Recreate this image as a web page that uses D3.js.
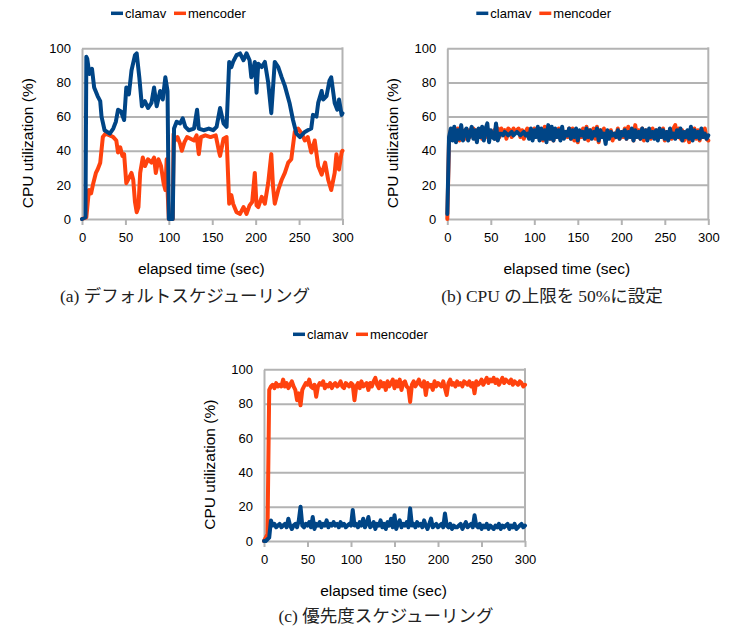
<!DOCTYPE html>
<html>
<head>
<meta charset="utf-8">
<script src="https://cdn.jsdelivr.net/npm/d3@7"></script>
<style>
  body { margin: 0; background: #fff; }
  svg { display: block; }
</style>
</head>
<body>
<svg id="chart" width="731" height="629"></svg>
<script>
// ---------- DATA ----------
const seriesNames = ["clamav", "mencoder"];
const xTicks = [0, 50, 100, 150, 200, 250, 300];
const yTicks = [0, 20, 40, 60, 80, 100];

// (a) default scheduling: time / value pairs
const aClamavT = [0,4,5,6,8.5,11.5,14,18,21,22.5,26,32,36,39,41.5,45,48.5,51,54,57,61,63,66,69,72.5,76,80,83,86,90,93,96,98.5,100,104.5,106,109,113,116,119,123,129,132.5,134.5,140,146,151,155,159,163,166.5,169.5,172,174,178,182,186,189.5,193,195,199,201,203,207,210.6,214.4,218,222,226,230,233.6,239,243,247,251,256.6,260,264,266,270,272,276,277.7,281.6,285,287,291,294,296,299,300];
const aClamavV = [0,1,95,94,85,88,77,72,69,60,52,50,53,57,64,63,58,77,73,87,96,97,83,66,69,65,68,77,66,75,70,83,75,0,0,53,57,56,59,54,52,53,64,53,52,53,52,54,65,56,54,92,89,92,96,97,93,97,93,83,92,74,91,89,92,80,62,92,89,83,78,68,58,50,48,51,52,53,61,60,68,75,70,72,81,83,68,64,70,61,62];
const aMencoderT = [0,5,6.5,8,10.5,13,16,18,21,24,27,32,36,39.5,41.5,44,46.5,48.5,51,54,57,59,61,63,65,67,70,72.5,76,80,83,85,88,91,94,96,97.5,98.5,100,104.5,105.5,107,110,113,115,118,121,125,129,132,134.5,137,142,148,154,158,159,163,166.5,169.5,172,174,178,182,186,189.5,193,196,199,201,203,207,210.6,214.4,218,220,222,226,230,233.6,237.5,241,245,249,253,256.6,260,264,268,272,276,280,283.5,287,291,293,296,299,300];
const aMencoderV = [0,1,9,17,15,21,27,29,33,48,50,49,48,46,39,42,37,38,21,24,27,23,10,4,7,27,36,31,35,33,36,27,35,31,21,17,35,17,0,0,50,46,48,44,40,45,48,47,46,49,38,48,49,48,49,39,37,47,48,9,14,9,4,3,7,3,8,10,27,8,7,13,9,21,38,19,9,17,23,27,33,35,51,53,50,46,48,39,46,31,26,33,23,17,27,38,29,39,40];

// (b) and (c): samples every 2 seconds, t = 0 .. 300
const bClamav = [3,
  48,53,46,54,45,52,47,55,46,51,
  53,46,50,54,47,52,45,53,48,54,
  46,53,56,45,52,48,47,56,46,50,
  50,49,51,50,49,50,51,49,50,51,
  50,49,50,51,49,50,47,53,46,52,
  48,54,46,53,47,52,45,55,47,54,
  46,53,48,52,46,54,47,51,49,53,
  47,52,48,53,46,52,49,51,47,53,
  48,52,47,51,49,53,46,52,48,50,
  44,52,47,51,49,50,48,52,47,51,
  49,52,47,51,48,53,46,52,48,51,
  47,53,48,52,46,53,48,51,47,52,
  46,53,48,52,47,51,46,53,48,50,
  47,52,48,53,46,51,48,52,47,54,
  46,52,48,51,47,53,48,50,47,49];
const bMencoder = [0,
  46,52,47,50,48,53,46,51,48,52,
  47,52,48,51,53,47,52,48,51,47,
  52,48,53,47,51,49,52,47,53,48,
  53,51,52,47,53,52,48,53,51,52,
  53,48,52,47,51,53,48,52,47,53,
  49,53,47,52,46,54,48,52,47,53,
  46,52,48,53,47,52,49,51,48,53,
  47,53,46,52,45,51,48,53,47,54,
  46,52,48,53,47,54,45,52,48,53,
  47,51,49,52,46,50,48,53,47,51,
  48,53,47,54,49,52,46,55,48,52,
  47,53,46,52,48,51,47,53,48,52,
  47,52,48,53,46,51,48,52,47,53,
  55,48,53,47,52,46,51,48,45,52,
  48,53,47,52,46,51,48,53,47,46];
const cClamav = [0,
  0,1,2,12,9,10,8,9,10,8,
  9,10,8,13,9,7,9,10,8,12,
  20,9,8,10,9,11,8,14,7,10,
  9,11,8,10,9,12,8,10,9,11,
  9,10,8,11,9,10,8,9,10,9,
  18,9,10,8,11,9,13,8,10,14,
  8,9,11,7,10,9,12,8,10,7,
  11,9,13,8,15,7,10,12,8,10,
  9,11,8,19,9,10,8,11,9,10,
  8,12,9,7,10,13,8,9,10,8,
  9,10,8,16,9,8,10,7,9,8,
  8,9,10,7,9,11,8,9,10,8,
  15,9,8,10,7,9,8,10,7,9,
  8,7,9,8,10,7,9,8,9,10,
  7,9,8,10,7,8,9,10,8,9];
const cMencoder = [0,
  2,4,88,90,91,89,92,90,91,90,
  94,90,92,89,91,93,90,88,82,86,
  79,88,90,92,91,94,90,89,91,84,
  90,92,91,93,89,91,90,92,89,91,
  92,90,91,93,90,89,92,91,90,92,
  91,82,90,92,89,93,90,91,92,88,
  92,90,93,95,91,89,93,90,92,88,
  93,90,92,94,89,93,90,94,88,92,
  93,90,89,81,91,93,90,92,94,91,
  90,93,85,92,90,91,88,93,90,92,
  91,90,93,89,85,92,94,91,92,90,
  93,91,92,90,93,92,91,93,90,92,
  86,93,91,92,94,91,93,95,92,94,
  93,95,92,94,91,93,95,92,94,93,
  92,94,91,93,92,91,93,92,90,91];
const sampleT = d3.range(0, 301, 2);

// ---------- STYLE ----------
const colors = { clamav: "#004586", mencoder: "#ff420e" };
const grey = "#b3b3b3";
const sans = "'Liberation Sans', Arial, sans-serif";
const serif = "'Liberation Serif', 'DejaVu Serif', serif";
const cjk = "'Noto Sans CJK JP', sans-serif";

const zip = (t, v) => t.map((d, i) => ({ t: d, v: v[i] }));

const panels = [
  { left: 82, top: 48.3, w: 260.5, h: 170.7,
    clamav: zip(aClamavT, aClamavV), mencoder: zip(aMencoderT, aMencoderV),
    capX: 185, capY: 301.5,
    caption: [["(a) ", serif], ["デフォルトスケジューリング", cjk]] },
  { left: 447.3, top: 48.3, w: 261, h: 170.7,
    clamav: zip(sampleT, bClamav), mencoder: zip(sampleT, bMencoder),
    capX: 552, capY: 301.5,
    caption: [["(b) CPU ", serif], ["の上限を ", cjk], ["50%", serif], ["に設定", cjk]] },
  { left: 264, top: 369.3, w: 261, h: 171.7,
    clamav: zip(sampleT, cClamav), mencoder: zip(sampleT, cMencoder),
    capX: 386, capY: 621.5,
    caption: [["(c) ", serif], ["優先度スケジューリング", cjk]] }
];

const svg = d3.select("#chart");

panels.forEach(p => {
  const x = d3.scaleLinear().domain([0, 300]).range([p.left, p.left + p.w]);
  const y = d3.scaleLinear().domain([0, 100]).range([p.top + p.h, p.top]);
  const g = svg.append("g");

  // grid lines
  g.append("g")
    .attr("transform", `translate(${p.left},0)`)
    .call(d3.axisLeft(y).tickValues(yTicks.slice(1)).tickSize(-p.w).tickFormat(""))
    .call(s => s.select(".domain").remove())
    .call(s => s.selectAll("line").attr("stroke", grey).attr("stroke-width", 2));

  // right border
  g.append("line")
    .attr("x1", x(300)).attr("x2", x(300))
    .attr("y1", y(100) - 1).attr("y2", y(0))
    .attr("stroke", grey).attr("stroke-width", 2);

  // left axis
  g.append("g")
    .attr("transform", `translate(${p.left},0)`)
    .call(d3.axisLeft(y).tickValues(yTicks).tickSize(0).tickPadding(11))
    .call(s => s.select(".domain").attr("stroke", grey).attr("stroke-width", 2))
    .call(s => s.selectAll("text").attr("font-family", sans).attr("font-size", 13).attr("fill", "#000"));

  // bottom axis
  g.append("g")
    .attr("transform", `translate(0,${p.top + p.h})`)
    .call(d3.axisBottom(x).tickValues(xTicks).tickSize(6).tickPadding(8).tickSizeOuter(0))
    .call(s => s.select(".domain").attr("stroke", grey).attr("stroke-width", 2))
    .call(s => s.selectAll("line").attr("stroke", grey).attr("stroke-width", 2))
    .call(s => s.selectAll("text").attr("font-family", sans).attr("font-size", 13).attr("fill", "#000"));

  // lines (mencoder beneath, clamav on top)
  const line = d3.line().x(d => x(d.t)).y(d => y(d.v));
  ["mencoder", "clamav"].forEach(name => {
    g.append("path")
      .datum(p[name])
      .attr("d", line)
      .attr("fill", "none")
      .attr("stroke", colors[name])
      .attr("stroke-width", 4)
      .attr("stroke-linejoin", "round")
      .attr("stroke-linecap", "round");
  });

  // axis titles
  g.append("text")
    .attr("transform", `translate(${p.left - 49},${p.top + p.h / 2 + 9.5}) rotate(-90)`)
    .attr("text-anchor", "middle")
    .attr("font-family", sans).attr("font-size", 15.5).attr("fill", "#000")
    .text("CPU utilization (%)");
  g.append("text")
    .attr("x", p.left + p.w / 2 - 11).attr("y", p.top + p.h + 55)
    .attr("text-anchor", "middle")
    .attr("font-family", sans).attr("font-size", 15.5).attr("fill", "#000")
    .text("elapsed time (sec)");

  // legend
  const leg = g.append("g").attr("transform", `translate(${p.left + 29},${p.top - 35})`);
  const legOffsets = [0, 63];
  seriesNames.forEach((name, i) => {
    const lg = leg.append("g").attr("transform", `translate(${legOffsets[i]},0)`);
    lg.append("line").attr("x1", 0).attr("x2", 12).attr("y1", 0).attr("y2", 0)
      .attr("stroke", colors[name]).attr("stroke-width", 3.5);
    lg.append("text").attr("x", 14).attr("y", 4.5)
      .attr("font-family", sans).attr("font-size", 13).attr("fill", "#000")
      .text(name);
  });

  // caption
  const cap = g.append("text")
    .attr("x", p.capX).attr("y", p.capY)
    .attr("text-anchor", "middle")
    .attr("font-size", 17.5).attr("fill", "#222");
  p.caption.forEach(([txt, font]) => {
    cap.append("tspan").attr("font-family", font).text(txt);
  });
});
</script>
</body>
</html>
